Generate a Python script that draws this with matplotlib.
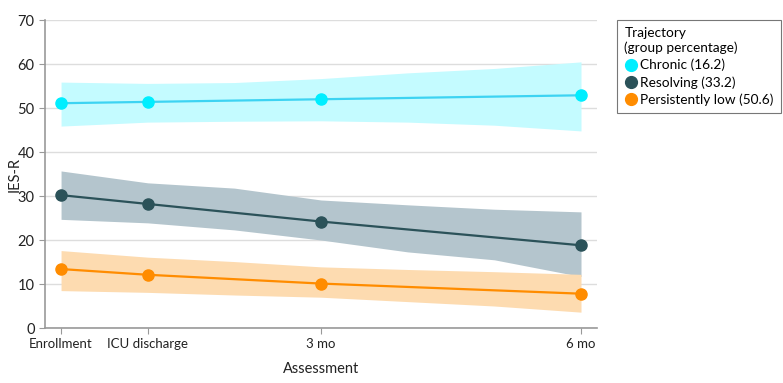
import numpy as np
import matplotlib.pyplot as plt
from matplotlib.lines import Line2D

plt.rcParams['font.family'] = ['Lato', 'DejaVu Sans']

# -----------------------------
# Datos
# -----------------------------
tick_months = [0, 1, 3, 6]
tick_labels = ["Enrollment", "ICU discharge", "3 mo", "6 mo"]
band_months = [0, 1, 2, 3, 4, 5, 6]

chronic_mean = [51.1, 51.4, 52.0, 52.9]
chronic_hi = [55.9, 55.6, 55.8, 56.7, 58.0, 59.0, 60.5]
chronic_lo = [45.9, 46.8, 47.0, 47.1, 46.8, 46.1, 44.8]

resolving_mean = [30.2, 28.2, 24.2, 18.8]
resolving_hi = [35.7, 33.0, 31.8, 29.1, 28.0, 27.0, 26.4]
resolving_lo = [24.7, 23.9, 22.3, 20.0, 17.3, 15.5, 11.7]

low_mean = [13.4, 12.1, 10.1, 7.8]
low_hi = [17.6, 16.1, 15.1, 13.9, 13.3, 12.8, 12.2]
low_lo = [8.5, 8.1, 7.5, 7.0, 6.0, 5.0, 3.6]

labels = ["Chronic (16.2)", "Resolving (33.2)", "Persistently low (50.6)"]

# estilos: (linea, marcador, banda)
styles = [
    ("#3DD3F2", "#00EEFF", "#C4FBFF"),
    ("#2B5259", "#2B5259", "#B4C5CD"),
    ("#FF8C00", "#FF8C00", "#FDDBB0"),
]

series = [
    (chronic_mean, chronic_lo, chronic_hi),
    (resolving_mean, resolving_lo, resolving_hi),
    (low_mean, low_lo, low_hi),
]

fig = plt.figure(figsize=(7.83, 3.83), dpi=100)
ax = fig.add_axes([0.0575, 0.1436, 0.705, 0.804])

for (mean, lo, hi), (lc, mc, bc) in zip(series, styles):
    ax.fill_between(band_months, lo, hi, color=bc, linewidth=0, zorder=1)
for (mean, lo, hi), (lc, mc, bc) in zip(series, styles):
    ax.plot(tick_months, mean, color=lc, linewidth=1.6, zorder=3)
    ax.plot(tick_months, mean, "o", color=mc, markersize=8, zorder=4)

ax.set_xlim(-0.185, 6.185)
ax.set_ylim(0, 70)
ax.set_yticks(np.arange(0, 71, 10))
ax.set_xticks(tick_months)
ax.set_xticklabels(tick_labels)
ax.yaxis.grid(True, color="#DDDDDD", linewidth=1.0, zorder=0)
ax.set_axisbelow(True)

for side in ["top", "right"]:
    ax.spines[side].set_visible(False)
for side in ["left", "bottom"]:
    ax.spines[side].set_color("#999999")
    ax.spines[side].set_linewidth(1.2)
ax.tick_params(colors="#999999", labelcolor="#222222", labelsize=9.5, length=4)
ax.tick_params(axis="y", labelsize=10.5)

ax.set_ylabel("IES-R", fontsize=10.5, color="#222222")
ax.yaxis.set_label_coords(-0.042, 0.5)
ax.set_xlabel("Assessment", fontsize=10.5, color="#222222", labelpad=8)

handles = [Line2D([], [], marker="o", linestyle="none", color=mc, markersize=8.5)
           for (lc, mc, bc) in styles]
leg = fig.legend(handles, labels, title="Trajectory\n(group percentage)",
                 loc="upper left", bbox_to_anchor=(0.788, 0.948),
                 borderaxespad=0, fontsize=9.8, title_fontsize=9.8, frameon=True,
                 fancybox=False, edgecolor="#555555", handletextpad=0.25,
                 handlelength=0.9, labelspacing=0.35, borderpad=0.55)
leg._legend_box.align = "left"
leg.get_frame().set_linewidth(0.8)

fig.savefig("out.png", dpi=100)
